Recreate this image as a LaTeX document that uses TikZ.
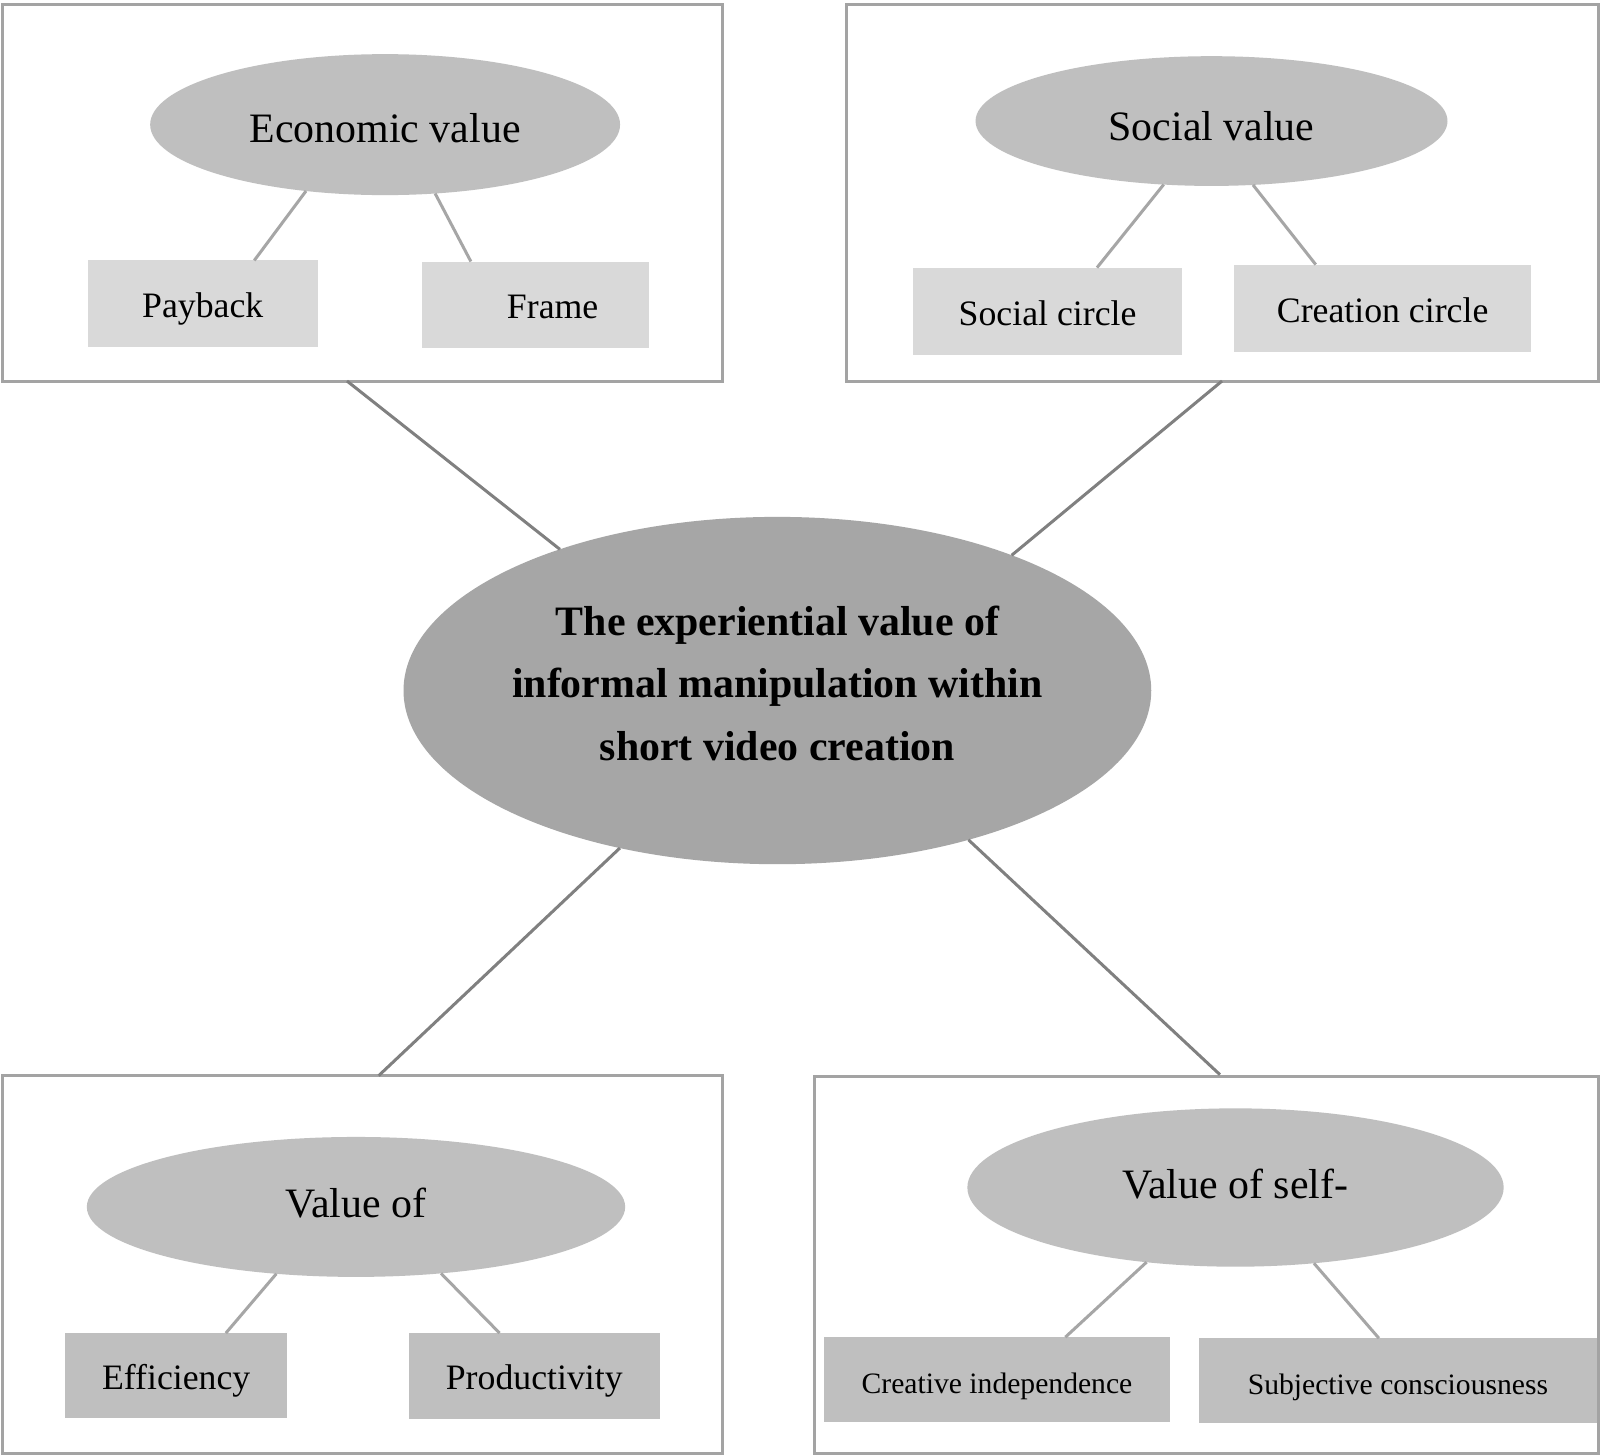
\documentclass[tikz,border=0pt]{standalone}
\usepackage{fontspec}
\setmainfont{Liberation Serif}
\usetikzlibrary{shapes.geometric,calc}
\definecolor{boxline}{HTML}{A3A3A3}
\definecolor{ellfill}{HTML}{BFBFBF}
\definecolor{rectlight}{HTML}{D9D9D9}
\definecolor{rectdark}{HTML}{BFBFBF}
\definecolor{centerfill}{HTML}{A6A6A6}
\definecolor{mainline}{HTML}{808080}
\definecolor{subline}{HTML}{A6A6A6}
\begin{document}
\begin{tikzpicture}[x=1.0215pt,y=-1.0215pt,
  every node/.append style={scale=1.0215},
  outerbox/.style={draw=boxline,line width=3pt,fill=none,inner sep=0,outer sep=0},
  headell/.style={ellipse,fill=ellfill,inner sep=0,outer sep=0,text depth=0pt,font=\fontsize{41}{49}\selectfont},
  leafbase/.style={rectangle,inner sep=0,outer sep=0,text height=27pt,text depth=0pt},
  leaflight/.style={leafbase,fill=rectlight,font=\fontsize{35}{42}\selectfont},
  leafdark/.style={leafbase,fill=rectdark,font=\fontsize{35}{42}\selectfont},
  leafsmall/.style={leafbase,fill=rectdark,font=\fontsize{29}{35}\selectfont},
  mainconn/.style={draw=mainline,line width=3pt},
  subconn/.style={draw=subline,line width=3pt}]
\useasboundingbox (0,0) rectangle (1566.3,1423.4);
\fill[white] (0,0) rectangle (1566.3,1423.4);

% outer boxes
\node[outerbox,minimum width=705pt,minimum height=369pt] (tlbox) at (354.5,188.5) {};
\node[outerbox,minimum width=736pt,minimum height=369pt] (trbox) at (1197,188.5) {};
\node[outerbox,minimum width=705pt,minimum height=370pt] (blbox) at (354.5,1238) {};
\node[outerbox,minimum width=768pt,minimum height=369pt] (brbox) at (1181,1238.5) {};

% center
\node[ellipse,fill=centerfill,inner sep=0,outer sep=0,minimum width=732pt,minimum height=340pt] (center) at (761,676) {};
\node[font=\bfseries\fontsize{41}{61}\selectfont,align=center,inner sep=0] (centertext) at (761,669)
  {The experiential value of\\informal manipulation within\\short video creation};

% economic
\node[headell,text height=35pt,minimum width=460pt,minimum height=138pt] (eco) at (377,122) {Economic value};
\node[leaflight,minimum width=225pt,minimum height=85pt] (pay) at (198.5,297.5) {Payback};
\node[leaflight,minimum width=222pt,minimum height=85pt] (frame) at (524,298.5) {\hspace*{34pt}Frame};

% social
\node[headell,text height=39pt,minimum width=462pt,minimum height=127pt] (soc) at (1186,118.5) {Social value};
\node[leaflight,minimum width=263pt,minimum height=86pt] (scirc) at (1025.5,305) {Social circle};
\node[leaflight,minimum width=291pt,minimum height=86pt] (ccirc) at (1353.5,302) {Creation circle};

% value of
\node[headell,text height=21pt,minimum width=527pt,minimum height=137pt] (valof) at (348.5,1181.5) {Value of};
\node[leafdark,minimum width=217pt,minimum height=83pt] (eff) at (172.5,1346.5) {Efficiency};
\node[leafdark,minimum width=246pt,minimum height=84pt] (prod) at (523,1347) {Productivity};

% self
\node[headell,text height=21pt,minimum width=525pt,minimum height=155pt] (self) at (1209.5,1162.5) {Value of self-};
\node[leafsmall,minimum width=338pt,minimum height=83pt] (creat) at (976,1350.5) {Creative independence};
\node[leafsmall,minimum width=389pt,minimum height=83pt] (subj) at (1368.5,1351.5) {Subjective consciousness};

% sub connectors
\draw[subconn] (eco.220.2) -- ($(pay.north west)!0.724!(pay.north east)$);
\draw[subconn] (eco.306.3) -- ($(frame.north west)!0.216!(frame.north east)$);
\draw[subconn] (soc.233.1) -- ($(scirc.north west)!0.684!(scirc.north east)$);
\draw[subconn] (soc.303.5) -- ($(ccirc.north west)!0.275!(ccirc.north east)$);
\draw[subconn] (valof.220.9) -- ($(eff.north west)!0.724!(eff.north east)$);
\draw[subconn] (valof.322.3) -- ($(prod.north west)!0.362!(prod.north east)$);
\draw[subconn] (self.220.7) -- ($(creat.north west)!0.698!(creat.north east)$);
\draw[subconn] (self.316.1) -- ($(subj.north west)!0.452!(subj.north east)$);

% main connectors
\draw[mainconn] ($(tlbox.south west)!0.479!(tlbox.south east)$) -- (center.147.4);
\draw[mainconn] ($(trbox.south west)!0.499!(trbox.south east)$) -- (center.30.7);
\draw[mainconn] (center.225.7) -- ($(blbox.north west)!0.523!(blbox.north east)$);
\draw[mainconn,shorten >=3pt] (center.322.5) -- ($(brbox.north west)!0.52!(brbox.north east)$);
\end{tikzpicture}
\end{document}
